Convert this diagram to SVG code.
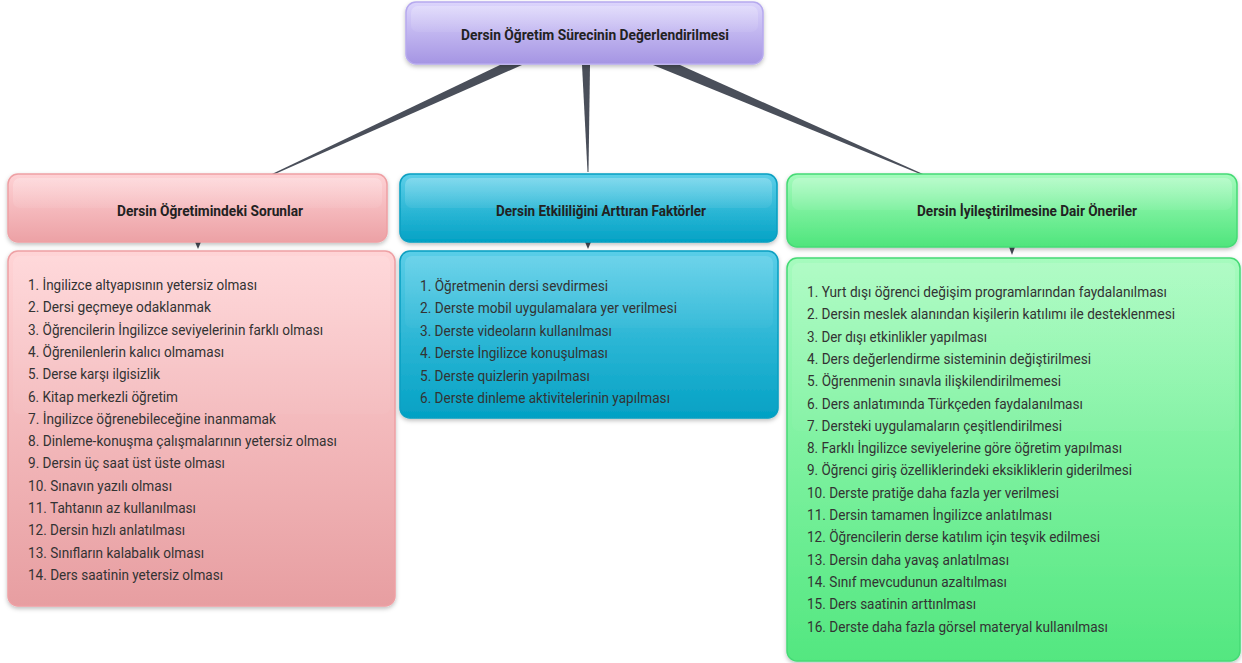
<svg xmlns="http://www.w3.org/2000/svg" width="1242" height="663" viewBox="0 0 1242 663">
<defs>
<linearGradient id="gPurple" x1="0" y1="0" x2="0" y2="1"><stop offset="0" stop-color="#dcd5fc"/><stop offset="1" stop-color="#a595e3"/></linearGradient>
<linearGradient id="gPink" x1="0" y1="0" x2="0" y2="1"><stop offset="0" stop-color="#fed2d5"/><stop offset="1" stop-color="#eca1a5"/></linearGradient>
<linearGradient id="gPinkL" x1="0" y1="0" x2="0" y2="1"><stop offset="0" stop-color="#ffd4d6"/><stop offset="1" stop-color="#e79ea1"/></linearGradient>
<linearGradient id="gCyan" x1="0" y1="0" x2="0" y2="1"><stop offset="0" stop-color="#5ccfe9"/><stop offset="1" stop-color="#03a2c5"/></linearGradient>
<linearGradient id="gCyanL" x1="0" y1="0" x2="0" y2="1"><stop offset="0" stop-color="#5acee8"/><stop offset="1" stop-color="#03a1c4"/></linearGradient>
<linearGradient id="gGreen" x1="0" y1="0" x2="0" y2="1"><stop offset="0" stop-color="#a5fbbd"/><stop offset="1" stop-color="#4fe57c"/></linearGradient>
<linearGradient id="gGreenL" x1="0" y1="0" x2="0" y2="1"><stop offset="0" stop-color="#a6fbbe"/><stop offset="1" stop-color="#53e780"/></linearGradient>
<linearGradient id="gloss" x1="0" y1="0" x2="0" y2="1"><stop offset="0" stop-color="#ffffff" stop-opacity="0.25"/><stop offset="1" stop-color="#ffffff" stop-opacity="0.06"/></linearGradient>
<filter id="sh" x="-5%" y="-10%" width="110%" height="125%"><feDropShadow dx="0" dy="2" stdDeviation="2" flood-color="#000" flood-opacity="0.25"/></filter>
</defs>
<style>
.hd{font-family:Roboto,"Liberation Sans",sans-serif;font-weight:bold;font-size:14px;fill:#222;}
.li{font-family:Roboto,"Liberation Sans",sans-serif;font-size:15px;fill:#333;}
.conn{fill:#4a4f5a;}
.tri{fill:#444a55;}
</style>
<g id="connectors">
<polygon class="conn" points="500,65 522,65 275,174 272,174"/>
<polygon class="conn" points="582,65 590,65 588.5,172 587.5,172"/>
<polygon class="conn" points="653,65 680,65 923,174 920,174"/>
<polygon class="tri" points="195,242 201,242 198,249"/>
<polygon class="tri" points="585,242 591,242 588,249"/>
<polygon class="tri" points="1009,247 1015,247 1012,255"/>
</g>
<g id="top">
<rect x="406" y="2" width="357" height="62" rx="10" fill="url(#gPurple)" stroke="#b6a9ee" stroke-width="1.5" filter="url(#sh)"/>
<rect x="411" y="6" width="347" height="26" rx="7" fill="url(#gloss)"/>
<text class="hd" x="595" y="40" text-anchor="middle" textLength="268" lengthAdjust="spacingAndGlyphs">Dersin Öğretim Sürecinin Değerlendirilmesi</text>
</g>
<g id="h-left">
<rect x="8" y="174" width="379" height="68" rx="10" fill="url(#gPink)" stroke="#eea0a4" stroke-width="1.5" filter="url(#sh)"/>
<rect x="13" y="178" width="369" height="30" rx="7" fill="url(#gloss)"/>
<text class="hd" x="210" y="216" text-anchor="middle" textLength="186" lengthAdjust="spacingAndGlyphs">Dersin Öğretimindeki Sorunlar</text>
</g>
<g id="h-mid">
<rect x="400" y="174" width="377" height="68" rx="10" fill="url(#gCyan)" stroke="#089fc1" stroke-width="1.5" filter="url(#sh)"/>
<rect x="405" y="178" width="367" height="30" rx="7" fill="url(#gloss)"/>
<text class="hd" x="601" y="216" text-anchor="middle" textLength="210" lengthAdjust="spacingAndGlyphs">Dersin Etkililiğini Arttıran Faktörler</text>
</g>
<g id="h-right">
<rect x="787" y="174" width="450" height="73" rx="10" fill="url(#gGreen)" stroke="#45da75" stroke-width="1.5" filter="url(#sh)"/>
<rect x="792" y="178" width="440" height="32" rx="7" fill="url(#gloss)"/>
<text class="hd" x="1027" y="216" text-anchor="middle" textLength="220" lengthAdjust="spacingAndGlyphs">Dersin İyileştirilmesine Dair Öneriler</text>
</g>
<g id="list-left">
<rect x="8" y="251" width="387" height="355" rx="10" fill="url(#gPinkL)" stroke="#eea0a4" stroke-width="1.5" filter="url(#sh)"/>
<rect x="13" y="256" width="377" height="158" rx="7" fill="url(#gloss)" opacity="0.5"/>
<text class="li" x="28" y="290" textLength="229" lengthAdjust="spacingAndGlyphs">1. İngilizce altyapısının yetersiz olması</text>
<text class="li" x="28" y="312.3" textLength="183" lengthAdjust="spacingAndGlyphs">2. Dersi geçmeye odaklanmak</text>
<text class="li" x="28" y="334.6" textLength="295" lengthAdjust="spacingAndGlyphs">3. Öğrencilerin İngilizce seviyelerinin farklı olması</text>
<text class="li" x="28" y="356.9" textLength="196" lengthAdjust="spacingAndGlyphs">4. Öğrenilenlerin kalıcı olmaması</text>
<text class="li" x="28" y="379.2" textLength="132" lengthAdjust="spacingAndGlyphs">5. Derse karşı ilgisizlik</text>
<text class="li" x="28" y="401.5" textLength="150" lengthAdjust="spacingAndGlyphs">6. Kitap merkezli öğretim</text>
<text class="li" x="28" y="423.8" textLength="248" lengthAdjust="spacingAndGlyphs">7. İngilizce öğrenebileceğine inanmamak</text>
<text class="li" x="28" y="446.1" textLength="309" lengthAdjust="spacingAndGlyphs">8. Dinleme-konuşma çalışmalarının yetersiz olması</text>
<text class="li" x="28" y="468.4" textLength="197" lengthAdjust="spacingAndGlyphs">9. Dersin üç saat üst üste olması</text>
<text class="li" x="28" y="490.7" textLength="144" lengthAdjust="spacingAndGlyphs">10. Sınavın yazılı olması</text>
<text class="li" x="28" y="513" textLength="168" lengthAdjust="spacingAndGlyphs">11. Tahtanın az kullanılması</text>
<text class="li" x="28" y="535.3" textLength="157" lengthAdjust="spacingAndGlyphs">12. Dersin hızlı anlatılması</text>
<text class="li" x="28" y="557.6" textLength="176" lengthAdjust="spacingAndGlyphs">13. Sınıfların kalabalık olması</text>
<text class="li" x="28" y="579.9" textLength="195" lengthAdjust="spacingAndGlyphs">14. Ders saatinin yetersiz olması</text>
</g>
<g id="list-mid">
<rect x="400" y="251" width="378" height="167" rx="10" fill="url(#gCyanL)" stroke="#089fc1" stroke-width="1.5" filter="url(#sh)"/>
<rect x="405" y="256" width="368" height="72" rx="7" fill="url(#gloss)" opacity="0.5"/>
<text class="li" x="420" y="291" textLength="188" lengthAdjust="spacingAndGlyphs">1. Öğretmenin dersi sevdirmesi</text>
<text class="li" x="420" y="313.4" textLength="257" lengthAdjust="spacingAndGlyphs">2. Derste mobil uygulamalara yer verilmesi</text>
<text class="li" x="420" y="335.8" textLength="192" lengthAdjust="spacingAndGlyphs">3. Derste videoların kullanılması</text>
<text class="li" x="420" y="358.2" textLength="188" lengthAdjust="spacingAndGlyphs">4. Derste İngilizce konuşulması</text>
<text class="li" x="420" y="380.6" textLength="170" lengthAdjust="spacingAndGlyphs">5. Derste quizlerin yapılması</text>
<text class="li" x="420" y="403" textLength="250" lengthAdjust="spacingAndGlyphs">6. Derste dinleme aktivitelerinin yapılması</text>
</g>
<g id="list-right">
<rect x="787" y="258" width="453" height="403" rx="10" fill="url(#gGreenL)" stroke="#45da75" stroke-width="1.5" filter="url(#sh)"/>
<rect x="792" y="263" width="443" height="168" rx="7" fill="url(#gloss)" opacity="0.5"/>
<text class="li" x="807" y="297" textLength="360" lengthAdjust="spacingAndGlyphs">1. Yurt dışı öğrenci değişim programlarından faydalanılması</text>
<text class="li" x="807" y="319.3" textLength="368" lengthAdjust="spacingAndGlyphs">2. Dersin meslek alanından kişilerin katılımı ile desteklenmesi</text>
<text class="li" x="807" y="341.6" textLength="180" lengthAdjust="spacingAndGlyphs">3. Der dışı etkinlikler yapılması</text>
<text class="li" x="807" y="363.9" textLength="284" lengthAdjust="spacingAndGlyphs">4. Ders değerlendirme sisteminin değiştirilmesi</text>
<text class="li" x="807" y="386.2" textLength="254" lengthAdjust="spacingAndGlyphs">5. Öğrenmenin sınavla ilişkilendirilmemesi</text>
<text class="li" x="807" y="408.5" textLength="276" lengthAdjust="spacingAndGlyphs">6. Ders anlatımında Türkçeden faydalanılması</text>
<text class="li" x="807" y="430.8" textLength="255" lengthAdjust="spacingAndGlyphs">7. Dersteki uygulamaların çeşitlendirilmesi</text>
<text class="li" x="807" y="453.1" textLength="315" lengthAdjust="spacingAndGlyphs">8. Farklı İngilizce seviyelerine göre öğretim yapılması</text>
<text class="li" x="807" y="475.4" textLength="325" lengthAdjust="spacingAndGlyphs">9. Öğrenci giriş özelliklerindeki eksikliklerin giderilmesi</text>
<text class="li" x="807" y="497.7" textLength="252" lengthAdjust="spacingAndGlyphs">10. Derste pratiğe daha fazla yer verilmesi</text>
<text class="li" x="807" y="520" textLength="245" lengthAdjust="spacingAndGlyphs">11. Dersin tamamen İngilizce anlatılması</text>
<text class="li" x="807" y="542.3" textLength="293" lengthAdjust="spacingAndGlyphs">12. Öğrencilerin derse katılım için teşvik edilmesi</text>
<text class="li" x="807" y="564.6" textLength="202" lengthAdjust="spacingAndGlyphs">13. Dersin daha yavaş anlatılması</text>
<text class="li" x="807" y="586.9" textLength="200" lengthAdjust="spacingAndGlyphs">14. Sınıf mevcudunun azaltılması</text>
<text class="li" x="807" y="609.2" textLength="169" lengthAdjust="spacingAndGlyphs">15. Ders saatinin arttınlması</text>
<text class="li" x="807" y="631.5" textLength="301" lengthAdjust="spacingAndGlyphs">16. Derste daha fazla görsel materyal kullanılması</text>
</g>
</svg>
